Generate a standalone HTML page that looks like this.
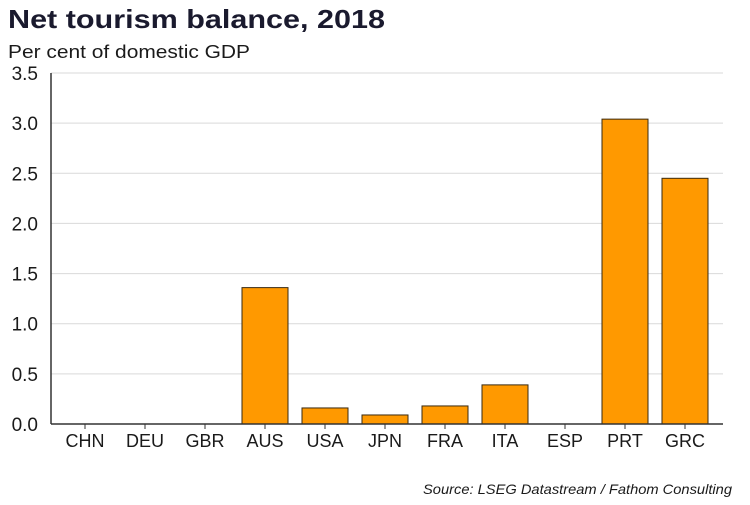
<!DOCTYPE html>
<html><head><meta charset="utf-8"><style>
body{margin:0;background:#fff;width:750px;height:500px;overflow:hidden;font-family:"Liberation Sans",Arial,sans-serif}
</style></head><body>
<svg width="750" height="500">
<text x="8" y="28" font-size="26" font-weight="bold" fill="#1a1a2e" textLength="377" lengthAdjust="spacingAndGlyphs">Net tourism balance, 2018</text>
<text x="8" y="58" font-size="18" fill="#1a1a1a" textLength="242" lengthAdjust="spacingAndGlyphs">Per cent of domestic GDP</text>
<g id="grid"></g><g id="bars"></g><g id="axes"></g>
<text x="732" y="494" font-size="14" font-style="italic" text-anchor="end" fill="#1a1a1a" textLength="309" lengthAdjust="spacingAndGlyphs">Source: LSEG Datastream / Fathom Consulting</text>
</svg>
<script>
const categories=["CHN","DEU","GBR","AUS","USA","JPN","FRA","ITA","ESP","PRT","GRC"];
const values=[0,0,0,1.36,0.16,0.09,0.18,0.39,0,3.04,2.45];
const yTicks=[0,0.5,1,1.5,2,2.5,3,3.5];
const yTickLabels=["0.0","0.5","1.0","1.5","2.0","2.5","3.0","3.5"];
const NS="http://www.w3.org/2000/svg";
const L=51,R=715,Y0=424,Ymax=3.5,Ypx=351;
const step=60;
const y=v=>Y0-v/Ymax*Ypx;
const xc=i=>55+step*(i+0.5);
function mk(t,a,p){const e=document.createElementNS(NS,t);for(const k in a)e.setAttribute(k,a[k]);p.appendChild(e);return e;}
const g=document.getElementById('grid'),b=document.getElementById('bars'),ax=document.getElementById('axes');
yTicks.forEach((t,i)=>{
 if(t>0){const l=mk('line',{x1:L,x2:R+8,y1:y(t),y2:y(t),stroke:'#d9d9d9','stroke-width':1},g);
 
 }
 const tx=mk('text',{x:38,y:y(t)+7,'font-size':19,'text-anchor':'end',fill:'#1a1a1a'},ax);
 tx.textContent=yTickLabels[i];
 
 
});
categories.forEach((c,i)=>{
 const h=Y0-y(values[i]);
 if(h>0){const r=mk('rect',{x:xc(i)-23,y:y(values[i]),width:46,height:h,fill:'#FF9900',stroke:'#3a2a10','stroke-width':1},b);
 
 }
 mk('line',{x1:xc(i),x2:xc(i),y1:Y0,y2:Y0+5,stroke:'#333','stroke-width':1},ax);
 const tx=mk('text',{x:xc(i),y:447,'font-size':18,'text-anchor':'middle',fill:'#1a1a1a'},ax);
 tx.textContent=c;
 
 
});
const xa=mk('line',{x1:L,x2:R+8,y1:Y0,y2:Y0,stroke:'#333','stroke-width':1.5},ax);


const ya=mk('line',{x1:L,x2:L,y1:y(3.5),y2:Y0,stroke:'#333','stroke-width':1.5},ax);


</script>
</body></html>
